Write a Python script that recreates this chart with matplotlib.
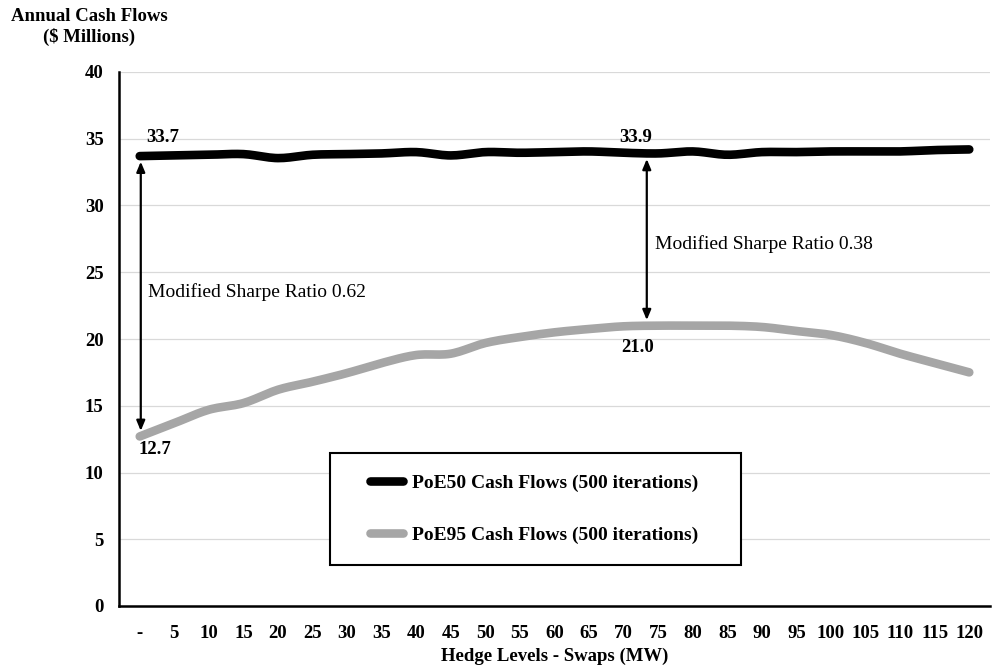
import numpy as np
import matplotlib
matplotlib.use("Agg")
import matplotlib.pyplot as plt
from matplotlib.patches import Rectangle

# ---- data ----
categories = ["-", "5", "10", "15", "20", "25", "30", "35", "40", "45", "50", "55", "60",
              "65", "70", "75", "80", "85", "90", "95", "100", "105", "110", "115", "120"]
poe50 = [33.7, 33.75, 33.8, 33.85, 33.55, 33.8, 33.85, 33.9, 34.0, 33.75, 34.0, 33.95, 34.0,
         34.05, 33.95, 33.9, 34.05, 33.8, 34.0, 34.0, 34.05, 34.05, 34.05, 34.15, 34.2]
poe95 = [12.7, 13.7, 14.7, 15.2, 16.2, 16.8, 17.45, 18.2, 18.8, 18.9, 19.7, 20.15, 20.5,
         20.75, 20.95, 21.0, 21.0, 21.0, 20.9, 20.6, 20.3, 19.7, 18.9, 18.2, 17.5]
series_names = ["PoE50 Cash Flows (500 iterations)", "PoE95 Cash Flows (500 iterations)"]
yticks = [0, 5, 10, 15, 20, 25, 30, 35, 40]

FONT = "Liberation Serif"
plt.rcParams["font.family"] = [FONT, "DejaVu Serif"]
FS = 13.5


def smooth(y, n=12):
    """Excel-style smoothed line (Catmull-Rom through the points)."""
    y = np.asarray(y, float)
    x = np.arange(len(y), dtype=float)
    P = np.concatenate([[y[0]], y, [y[-1]]])
    X = np.concatenate([[x[0]], x, [x[-1]]])
    xs, ys = [], []
    t = np.linspace(0, 1, n, endpoint=False)
    for i in range(1, len(P) - 2):
        p0, p1, p2, p3 = P[i - 1], P[i], P[i + 1], P[i + 2]
        q0, q1, q2, q3 = X[i - 1], X[i], X[i + 1], X[i + 2]
        f = lambda a0, a1, a2, a3: 0.5 * ((2 * a1) + (-a0 + a2) * t +
                                          (2 * a0 - 5 * a1 + 4 * a2 - a3) * t ** 2 +
                                          (-a0 + 3 * a1 - 3 * a2 + a3) * t ** 3)
        xs.append(f(q0, q1, q2, q3))
        ys.append(f(p0, p1, p2, p3))
    xs.append([x[-1]])
    ys.append([y[-1]])
    return np.concatenate(xs), np.concatenate(ys)


fig = plt.figure(figsize=(9.93, 6.71), dpi=100)
ax = fig.add_axes([119 / 993, 1 - 606 / 671, (990 - 119) / 993, (606 - 72) / 671])

x50, y50 = smooth(poe50)
x95, y95 = smooth(poe95)
l1, = ax.plot(x50, y50, color="black", lw=6.2, solid_capstyle="round", zorder=4,
              label=series_names[0])
l2, = ax.plot(x95, y95, color="#a6a6a6", lw=6.2, solid_capstyle="round", zorder=3,
              label=series_names[1])

ax.set_xlim(-0.6, len(categories) - 0.4)
ax.set_ylim(0, 40)
ax.set_xticks(range(len(categories)))
ax.set_xticklabels(categories)
ax.set_yticks(yticks)
ax.tick_params(axis="both", length=0, labelsize=FS)
ax.tick_params(axis="y", pad=11)
ax.tick_params(axis="x", pad=14)
for lab in ax.get_xticklabels() + ax.get_yticklabels():
    lab.set_fontweight("bold")
ax.grid(axis="y", color="#d9d9d9", lw=0.9)
ax.set_axisbelow(True)
for s in ["top", "right"]:
    ax.spines[s].set_visible(False)
for s in ["left", "bottom"]:
    ax.spines[s].set_linewidth(1.8)
    ax.spines[s].set_color("black")

ax.set_xlabel("Hedge Levels - Swaps (MW)", fontsize=FS, fontweight="bold", labelpad=4)
fig.text(89 / 993, 1 - 27 / 671, "Annual Cash Flows\n($ Millions)", ha="center", va="center",
         fontsize=13.5, fontweight="bold", multialignment="center", linespacing=1.25)

# arrows and value labels
arrow_kw = dict(arrowstyle="<|-|>,head_length=0.6,head_width=0.25", color="black", lw=1.6,
                shrinkA=4, shrinkB=4)
ax.annotate("", xy=(0.03, poe95[0]), xytext=(0.03, poe50[0]), arrowprops=arrow_kw, zorder=5)
ax.annotate("", xy=(14.67, poe95[15]), xytext=(14.67, poe50[15]), arrowprops=arrow_kw, zorder=5)

lab_kw = dict(ha="center", va="center", fontsize=FS, fontweight="bold", zorder=6)
ax.text(0.66, 35.1, f"{poe50[0]:.1f}", **lab_kw)
ax.text(14.35, 35.1, f"{poe50[15]:.1f}", **lab_kw)
ax.text(14.4, 19.4, f"{poe95[15]:.1f}", **lab_kw)
ax.text(0.43, 11.75, f"{poe95[0]:.1f}", **lab_kw)
ax.text(0.23, 23.5, "Modified Sharpe Ratio 0.62", ha="left", va="center", fontsize=14)
ax.text(14.9, 27.1, "Modified Sharpe Ratio 0.38", ha="left", va="center", fontsize=14)

# legend box
bx0, bx1 = (330 - 119) / 871, (741 - 119) / 871
by0, by1 = (606 - 565) / 534, (606 - 453) / 534
ax.add_patch(Rectangle((bx0, by0), bx1 - bx0, by1 - by0, transform=ax.transAxes,
                       facecolor="white", edgecolor="black", lw=1.5, zorder=7))
leg = ax.legend(handles=[l1, l2], loc="center", bbox_to_anchor=((bx0 + bx1) / 2 - 0.002, (by0 + by1) / 2),
                frameon=False, labelspacing=1.75, handlelength=1.7,
                handletextpad=0.45, prop={"weight": "bold", "size": 14})
leg.set_zorder(8)

fig.savefig("out.png", dpi=100)
